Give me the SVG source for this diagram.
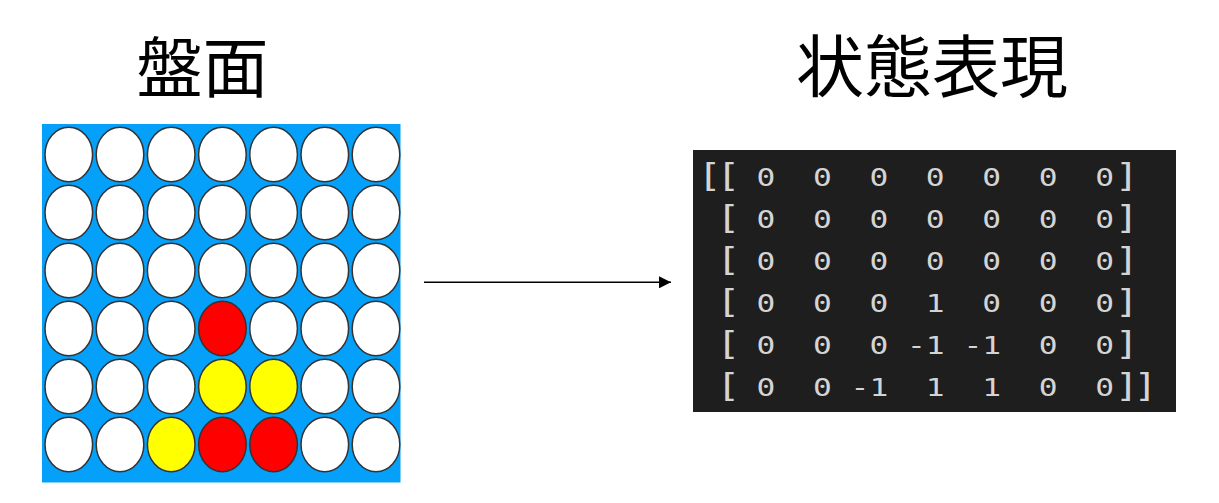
<svg xmlns="http://www.w3.org/2000/svg" width="1219" height="503" viewBox="0 0 1219 503">
<style>
.title{font-family:"Noto Sans CJK JP","Noto Sans CJK SC",sans-serif;font-size:66px;font-weight:400;fill:#000;text-anchor:middle}
.hole{fill:#fff;stroke:#333;stroke-width:1.5}
.red{fill:#ff0000;stroke:#333;stroke-width:1.5}
.yel{fill:#ffff00;stroke:#333;stroke-width:1.5}
.m{font-family:"DejaVu Sans Mono","Liberation Mono",monospace;font-size:25px;fill:#d4d4d4;white-space:pre}
.b{font-size:32px;letter-spacing:-4.21px}
</style>
<defs>
<marker id="ah" markerWidth="12" markerHeight="12" refX="12" refY="6" orient="auto" markerUnits="userSpaceOnUse">
<path d="M0,0 L12,6 L0,12 Z" fill="#000"/>
</marker>
</defs>
<rect width="1219" height="503" fill="#fff"/>
<g id="title-board"><text class="title" x="202.5" y="92">盤面</text></g>
<g id="title-state"><text class="title" x="932" y="92" style="font-size:68px">状態表現</text></g>
<g id="board">
<rect x="42" y="124" width="358.5" height="358.5" fill="#05a0fa"/>
<g id="holes">
<ellipse class="hole" cx="68.8" cy="154.5" rx="23.8" ry="27.3"/><ellipse class="hole" cx="120" cy="154.5" rx="23.8" ry="27.3"/><ellipse class="hole" cx="171.2" cy="154.5" rx="23.8" ry="27.3"/><ellipse class="hole" cx="222.4" cy="154.5" rx="23.8" ry="27.3"/><ellipse class="hole" cx="273.6" cy="154.5" rx="23.8" ry="27.3"/><ellipse class="hole" cx="324.8" cy="154.5" rx="23.8" ry="27.3"/><ellipse class="hole" cx="376" cy="154.5" rx="23.8" ry="27.3"/>
<ellipse class="hole" cx="68.8" cy="212.5" rx="23.8" ry="27.3"/><ellipse class="hole" cx="120" cy="212.5" rx="23.8" ry="27.3"/><ellipse class="hole" cx="171.2" cy="212.5" rx="23.8" ry="27.3"/><ellipse class="hole" cx="222.4" cy="212.5" rx="23.8" ry="27.3"/><ellipse class="hole" cx="273.6" cy="212.5" rx="23.8" ry="27.3"/><ellipse class="hole" cx="324.8" cy="212.5" rx="23.8" ry="27.3"/><ellipse class="hole" cx="376" cy="212.5" rx="23.8" ry="27.3"/>
<ellipse class="hole" cx="68.8" cy="270.5" rx="23.8" ry="27.3"/><ellipse class="hole" cx="120" cy="270.5" rx="23.8" ry="27.3"/><ellipse class="hole" cx="171.2" cy="270.5" rx="23.8" ry="27.3"/><ellipse class="hole" cx="222.4" cy="270.5" rx="23.8" ry="27.3"/><ellipse class="hole" cx="273.6" cy="270.5" rx="23.8" ry="27.3"/><ellipse class="hole" cx="324.8" cy="270.5" rx="23.8" ry="27.3"/><ellipse class="hole" cx="376" cy="270.5" rx="23.8" ry="27.3"/>
<ellipse class="hole" cx="68.8" cy="328.5" rx="23.8" ry="27.3"/><ellipse class="hole" cx="120" cy="328.5" rx="23.8" ry="27.3"/><ellipse class="hole" cx="171.2" cy="328.5" rx="23.8" ry="27.3"/><ellipse class="red" cx="222.4" cy="328.5" rx="23.8" ry="27.3"/><ellipse class="hole" cx="273.6" cy="328.5" rx="23.8" ry="27.3"/><ellipse class="hole" cx="324.8" cy="328.5" rx="23.8" ry="27.3"/><ellipse class="hole" cx="376" cy="328.5" rx="23.8" ry="27.3"/>
<ellipse class="hole" cx="68.8" cy="386.5" rx="23.8" ry="27.3"/><ellipse class="hole" cx="120" cy="386.5" rx="23.8" ry="27.3"/><ellipse class="hole" cx="171.2" cy="386.5" rx="23.8" ry="27.3"/><ellipse class="yel" cx="222.4" cy="386.5" rx="23.8" ry="27.3"/><ellipse class="yel" cx="273.6" cy="386.5" rx="23.8" ry="27.3"/><ellipse class="hole" cx="324.8" cy="386.5" rx="23.8" ry="27.3"/><ellipse class="hole" cx="376" cy="386.5" rx="23.8" ry="27.3"/>
<ellipse class="hole" cx="68.8" cy="444.5" rx="23.8" ry="27.3"/><ellipse class="hole" cx="120" cy="444.5" rx="23.8" ry="27.3"/><ellipse class="yel" cx="171.2" cy="444.5" rx="23.8" ry="27.3"/><ellipse class="red" cx="222.4" cy="444.5" rx="23.8" ry="27.3"/><ellipse class="red" cx="273.6" cy="444.5" rx="23.8" ry="27.3"/><ellipse class="hole" cx="324.8" cy="444.5" rx="23.8" ry="27.3"/><ellipse class="hole" cx="376" cy="444.5" rx="23.8" ry="27.3"/>
</g>
</g>
<g id="connectors">
<line x1="424" y1="282.3" x2="671" y2="282.3" stroke="#000" stroke-width="1.6" marker-end="url(#ah)"/>
</g>
<g id="state">
<rect x="693" y="150" width="483" height="262" fill="#1e1e1e"/>
<g transform="translate(700,0) scale(1.2512,1)" xml:space="preserve">
<text class="m" y="186"><tspan class="b" x="-2.1">[[</tspan><tspan x="45.15">0  0  0  0  0  0  0</tspan><tspan class="b" x="331.5">]</tspan></text>
<text class="m" y="228"><tspan class="b" x="12.95">[</tspan><tspan x="45.15">0  0  0  0  0  0  0</tspan><tspan class="b" x="331.5">]</tspan></text>
<text class="m" y="270"><tspan class="b" x="12.95">[</tspan><tspan x="45.15">0  0  0  0  0  0  0</tspan><tspan class="b" x="331.5">]</tspan></text>
<text class="m" y="312"><tspan class="b" x="12.95">[</tspan><tspan x="45.15">0  0  0  1  0  0  0</tspan><tspan class="b" x="331.5">]</tspan></text>
<text class="m" y="354"><tspan class="b" x="12.95">[</tspan><tspan x="45.15">0  0  0 -1 -1  0  0</tspan><tspan class="b" x="331.5">]</tspan></text>
<text class="m" y="396"><tspan class="b" x="12.95">[</tspan><tspan x="45.15">0  0 -1  1  1  0  0</tspan><tspan class="b" x="331.5">]]</tspan></text>
</g>
</g>
</svg>
